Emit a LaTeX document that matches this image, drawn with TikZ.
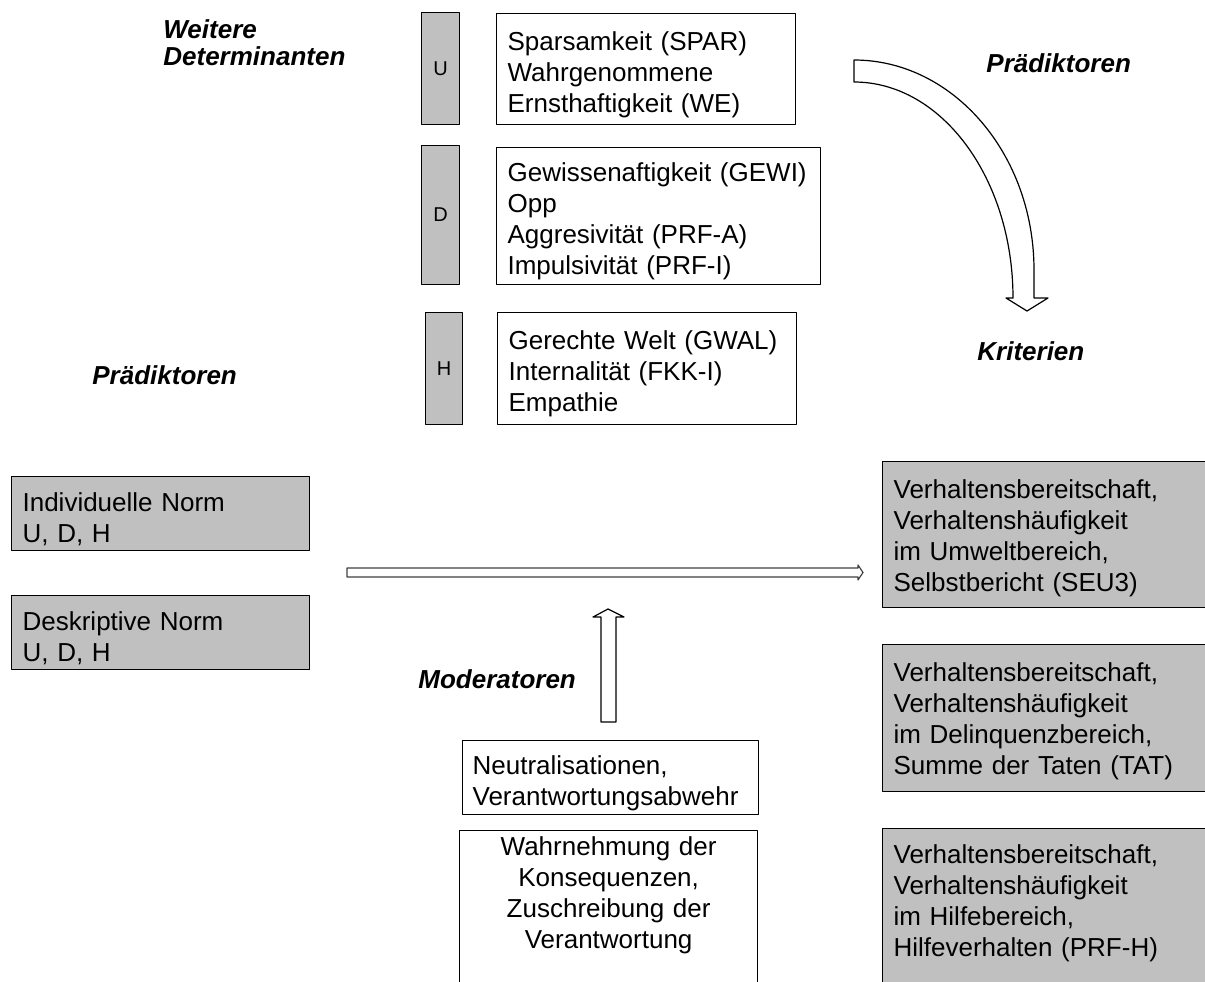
\documentclass[tikz,border=0pt]{standalone}
\usepackage{fontspec}
\setmainfont{Liberation Sans}
\usetikzlibrary{arrows.meta, calc}
\definecolor{boxgray}{RGB}{192,192,192}

\begin{document}
\begin{tikzpicture}[x=0.5pt, y=-0.5pt, line join=round,
	box/.style={draw, line width=0.6pt, fill=white, anchor=north west, inner xsep=5.5pt, inner ysep=0pt, align=left, text height=15pt, font=\fontsize{13pt}{15.5pt}\selectfont},
	graybox/.style={box, fill=boxgray},
	openbox/.style={text height=9.5pt, text depth=75pt},
	bar/.style={draw, line width=0.6pt, fill=boxgray, anchor=north west, inner sep=0pt, font=\fontsize{10pt}{12pt}\selectfont},
	heading/.style={inner sep=0pt, font=\fontsize{13pt}{13.5pt}\selectfont\bfseries\itshape},
	blockarrow/.style={draw, line width=0.6pt, fill=white}]
		
		% Page frame (boxes run off the right and bottom edge)
		\useasboundingbox (0,0) rectangle (1205,981);
		\clip (0,0) rectangle (1205,981);
		
		% 1. Further determinants: gray tags and their lists
		\node[bar, minimum width=19pt, minimum height=56pt] (barU) at (421,12) {U};
		\node[bar, minimum width=19pt, minimum height=69.5pt] (barD) at (421,145) {D};
		\node[bar, minimum width=18.5pt, minimum height=56pt] (barH) at (425,312) {H};
		
		\node[box, text width=138.5pt, minimum height=55.5pt] (boxU) at (496,13)
		{Sparsamkeit (SPAR)\\ Wahrgenommene\\ Ernsthaftigkeit (WE)};
		\node[box, text width=151pt, minimum height=68.5pt] (boxD) at (496,147)
		{Gewissenaftigkeit (GEWI)\\ Opp\\ Aggresivität (PRF-A)\\ Impulsivität (PRF-I)};
		\node[box, text width=138.5pt, minimum height=56pt] (boxH) at (497,312)
		{Gerechte Welt (GWAL)\\ Internalität (FKK-I)\\ Empathie};
		
		% 2. Predictors (left)
		\node[graybox, text width=138pt, minimum height=37pt] (indiv) at (11,476)
		{Individuelle Norm\\ U, D, H};
		\node[graybox, text width=138pt, minimum height=37pt] (deskr) at (11,595)
		{Deskriptive Norm\\ U, D, H};
		
		% 3. Criteria (right)
		\node[graybox, text width=159pt, minimum height=73pt, text height=13pt] (critU) at (882,461)
		{Verhaltensbereitschaft,\\ Verhaltenshäufigkeit\\ im Umweltbereich,\\ Selbstbericht (SEU3)};
		\node[graybox, text width=159pt, minimum height=73.5pt, text height=13pt] (critD) at (882,644)
		{Verhaltensbereitschaft,\\ Verhaltenshäufigkeit\\ im Delinquenzbereich,\\ Summe der Taten (TAT)};
		\node[graybox, openbox, text width=159pt, inner ysep=8pt] (critH) at (882,828)
		{Verhaltensbereitschaft,\\ Verhaltenshäufigkeit\\ im Hilfebereich,\\ Hilfeverhalten (PRF-H)};
		
		% 4. Moderators
		\node[box, inner xsep=5pt, text width=138pt, minimum height=37pt] (neutr) at (462,740)
		{Neutralisationen,\\ Verantwortungsabwehr};
		\node[box, openbox, align=center, text width=138pt, inner ysep=3pt] (wahrn) at (459,830)
		{Wahrnehmung der\\ Konsequenzen,\\ Zuschreibung der\\ Verantwortung};
		
		% 5. Headings
		\node[heading, anchor=west, align=left] (weitere) at (163,43) {Weitere\\Determinanten};
		\node[heading, anchor=base west] (praedR) at (986,72) {Prädiktoren};
		\node[heading, anchor=base west] (kriterien) at (977,360) {Kriterien};
		\node[heading, anchor=base west] (praedL) at (92,384) {Prädiktoren};
		\node[heading, anchor=base west] (moderatoren) at (418,688) {Moderatoren};
		
		% 6. Block arrows
		% curved arrow from the determinants down to the criteria
		\draw[blockarrow] (854,60) .. controls (953,60) and (1034,154) .. (1034,270)
		-- (1034,298) -- (1048,298) -- (1027,311) -- (1006,298) -- (1013,298)
		.. controls (1013,179) and (942,82) .. (854,82) -- cycle;
		% long thin arrow from the norms to the criteria
		\draw[blockarrow, draw=black!75] (347,568) -- (858,568) -- (858,565) -- (863,572.5)
		-- (858,580) -- (858,577) -- (347,577) -- cycle;
		% moderators pointing up
		\draw[blockarrow] (601,722) -- (601,617) -- (593,617) -- (608,609) -- (624,617)
		-- (616,617) -- (616,722) -- cycle;
		
	\end{tikzpicture}
\end{document}
